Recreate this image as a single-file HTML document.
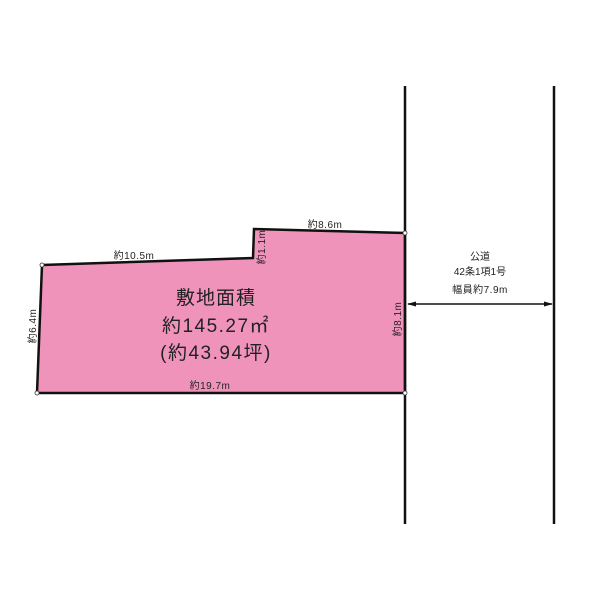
<!DOCTYPE html>
<html><head><meta charset="utf-8"><style>
html,body{margin:0;padding:0;background:#fff;width:600px;height:600px;overflow:hidden}
text{font-family:"Liberation Sans","Noto Sans CJK JP",sans-serif;fill:#222}
</style></head><body>
<svg width="600" height="600" viewBox="0 0 600 600">
<polygon points="42,265 253,258 254,229 405,233 405,393 37,393" fill="#f093bb" stroke="#111" stroke-width="2.5"/>
<line x1="405" y1="86" x2="405" y2="524" stroke="#111" stroke-width="2.5"/>
<line x1="554" y1="86" x2="554" y2="524" stroke="#111" stroke-width="2.5"/>
<line x1="408" y1="304" x2="552" y2="304" stroke="#111" stroke-width="1.5"/>
<polygon points="407,304 416,301.5 416,306.5" fill="#111"/>
<polygon points="553,304 544,301.5 544,306.5" fill="#111"/>
<g fill="#fff" stroke="#333" stroke-width="0.8">
<circle cx="42" cy="265" r="2"/><circle cx="405" cy="233" r="2"/><circle cx="405" cy="393" r="2"/><circle cx="37" cy="393" r="2"/>
</g>
<text x="134" y="259" font-size="10" text-anchor="middle" letter-spacing="0.5">約10.5m</text>
<text x="325" y="228" font-size="10" text-anchor="middle" letter-spacing="0.5">約8.6m</text>
<text x="210" y="389" font-size="10" text-anchor="middle" letter-spacing="0.5">約19.7m</text>
<text transform="translate(265,247) rotate(-90)" font-size="10" text-anchor="middle" letter-spacing="0.5">約1.1m</text>
<text transform="translate(36,326) rotate(-90)" font-size="10" text-anchor="middle" letter-spacing="0.5">約6.4m</text>
<text transform="translate(401,319) rotate(-90)" font-size="10" text-anchor="middle" letter-spacing="0.5">約8.1m</text>
<text x="216" y="304" font-size="19" text-anchor="middle" letter-spacing="1">敷地面積</text>
<text x="216" y="332" font-size="19" text-anchor="middle" letter-spacing="1.5">約145.27㎡</text>
<text x="216" y="359" font-size="19" text-anchor="middle" letter-spacing="1.5">(約43.94坪)</text>
<text x="480" y="260" font-size="10" text-anchor="middle">公道</text>
<text x="480" y="275" font-size="10" text-anchor="middle">42条1項1号</text>
<text x="480" y="293" font-size="10" text-anchor="middle" letter-spacing="0.5">幅員約7.9m</text>
</svg>
</body></html>
